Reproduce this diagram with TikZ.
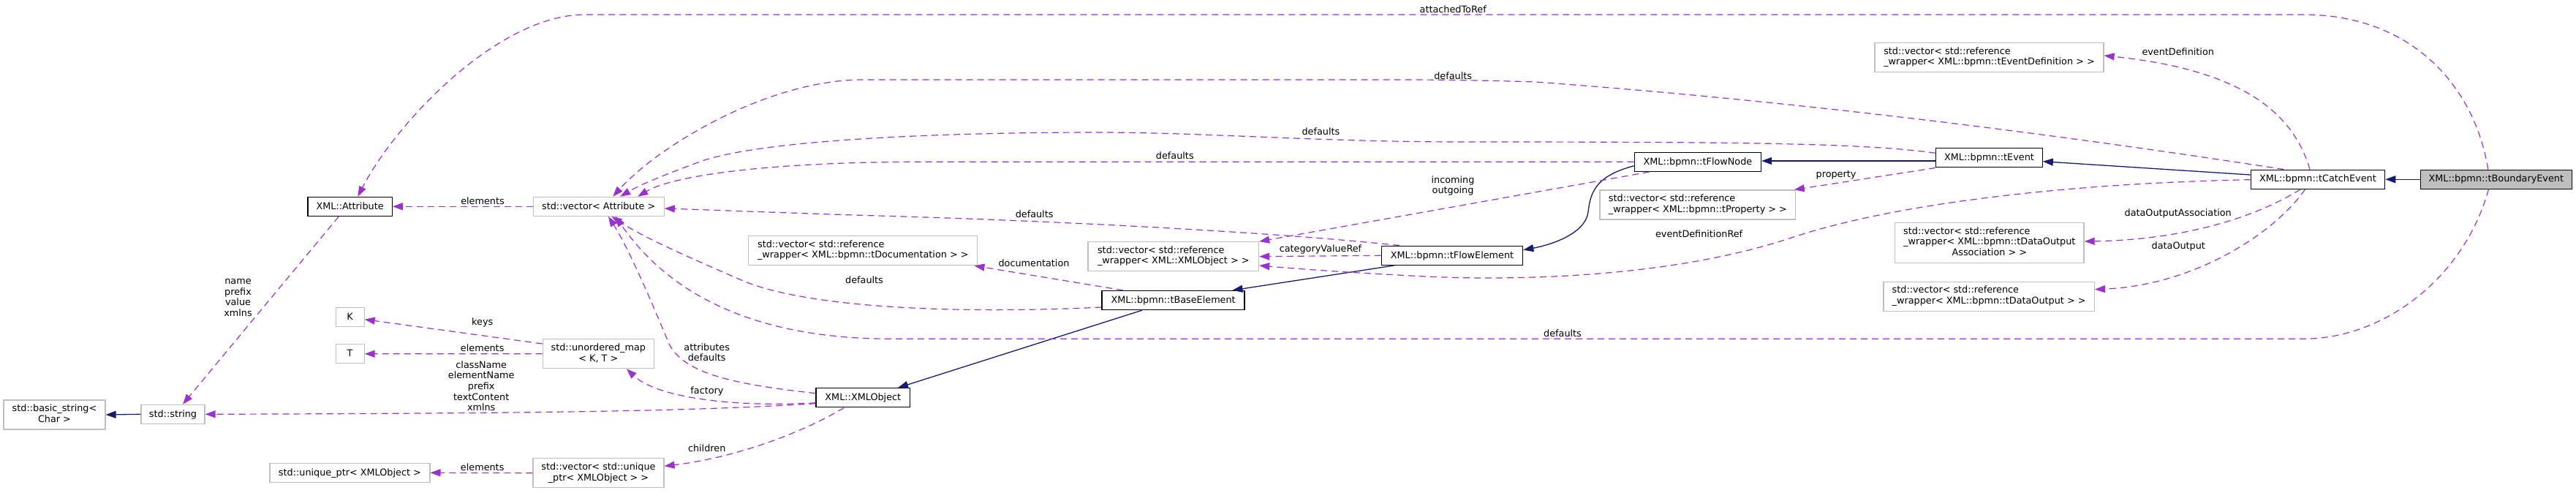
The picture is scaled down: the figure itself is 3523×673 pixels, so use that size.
\documentclass[tikz,border=0pt]{standalone}
\usepackage{fontspec}
\setmainfont{DejaVu Sans}
\usetikzlibrary{arrows.meta}
\definecolor{edgeP}{HTML}{9A32CD}
\definecolor{edgeN}{HTML}{191970}
\definecolor{greySF}{HTML}{BFBFBF}
\newcommand\dstrut{\rule[-3.6pt]{0pt}{14.6pt}}
\newcommand\twoL[2]{\begin{tabular}{@{}l@{}}#1\\#2\end{tabular}}
\newcommand\twoC[2]{\begin{tabular}{@{}c@{}}#1\\#2\end{tabular}}
\newcommand\threeL[3]{\begin{tabular}{@{}l@{}}#1\\#2\\\multicolumn{1}{@{}c@{}}{#3}\end{tabular}}
\begin{document}
\begin{tikzpicture}[x=1pt,y=-1pt,
  font=\fontsize{12.8pt}{14.7pt}\selectfont,
  box/.style={draw=black, line width=1.3pt, fill=white, inner sep=0pt, minimum height=26pt},
  ubox/.style={draw=greySF, line width=1.2pt, fill=white, inner sep=0pt, minimum height=26pt},
  htwo/.style={minimum height=40pt},
  hthree/.style={minimum height=55pt},
  uses/.style={draw=edgeP, line width=1.2pt, dash pattern=on 9pt off 6pt, -{Triangle[length=14pt,width=10pt]}},
  inh/.style={draw=edgeN, line width=1.3pt, -{Triangle[length=14pt,width=10pt]}},
  lbl/.style={inner sep=0pt, align=center},
]
\fill[white] (0,0) rectangle (3523,673);
\useasboundingbox (0,0) rectangle (3523,673);

% nodes
\node[ubox, htwo, minimum width=139pt] (bstr) at (74.5,567) {\twoC{std::basic\_string<}{Char >}};
\node[ubox, minimum width=87pt] (str) at (236.5,566.3) {\dstrut std::string};
\node[box, minimum width=115.3pt] (attr) at (478.6,282.3) {\dstrut XML::Attribute};
\node[ubox, minimum width=39pt] (K) at (478.6,433.3) {\dstrut K};
\node[ubox, minimum width=39pt] (T) at (478.6,483.8) {\dstrut T};
\node[ubox, minimum width=219pt] (uptr) at (478.4,646.3) {\dstrut std::unique\_ptr< XMLObject >};
\node[ubox, minimum width=179pt] (vattr) at (818.7,282.3) {\dstrut std::vector< Attribute >};
\node[ubox, htwo, minimum width=152pt] (umap) at (818.3,483.7) {\twoC{std::unordered\_map}{< K, T >}};
\node[ubox, htwo, minimum width=179pt] (vuptr) at (818.5,646.7) {\twoC{std::vector< std::unique}{\_ptr< XMLObject > >}};
\node[box, minimum width=128.6pt] (xmlobj) at (1180.3,543.8) {\dstrut XML::XMLObject};
\node[ubox, htwo, minimum width=313pt] (vdoc) at (1180.3,342.7) {\twoL{std::vector< std::reference}{\_wrapper< XML::bpmn::tDocumentation > >}};
\node[ubox, htwo, minimum width=233.6pt] (vxo) at (1604.8,350.7) {\twoL{std::vector< std::reference}{\_wrapper< XML::XMLObject > >}};
\node[box, minimum width=195pt] (base) at (1604.6,410.5) {\dstrut XML::bpmn::tBaseElement};
\node[box, minimum width=193.3pt] (flowel) at (1986,349.3) {\dstrut XML::bpmn::tFlowElement};
\node[box, minimum width=173.2pt] (flownode) at (2321.9,221.3) {\dstrut XML::bpmn::tFlowNode};
\node[ubox, htwo, minimum width=267.8pt] (vprop) at (2321.9,280) {\twoL{std::vector< std::reference}{\_wrapper< XML::bpmn::tProperty > >}};
\node[box, minimum width=145.4pt] (event) at (2720.5,215.8) {\dstrut XML::bpmn::tEvent};
\node[ubox, htwo, minimum width=313pt] (vevdef) at (2720.5,78.7) {\twoL{std::vector< std::reference}{\_wrapper< XML::bpmn::tEventDefinition > >}};
\node[ubox, hthree, minimum width=258.5pt] (vdoa) at (2720.8,331.8) {\threeL{std::vector< std::reference}{\_wrapper< XML::bpmn::tDataOutput}{Association > >}};
\node[ubox, htwo, minimum width=288.4pt] (vdo) at (2720.1,405.2) {\twoL{std::vector< std::reference}{\_wrapper< XML::bpmn::tDataOutput > >}};
\node[box, minimum width=183.4pt] (catch) at (3169.9,245.2) {\dstrut XML::bpmn::tCatchEvent};
\node[box, fill=greySF, minimum width=207pt] (bound) at (3413.8,245.2) {\dstrut XML::bpmn::tBoundaryEvent};

% inheritance edges
\draw[inh] (str.west) -- (bstr.east);
\draw[inh] ([xshift=-42.6pt]base.south) -- ([xshift=47.7pt]xmlobj.north);
\draw[inh] ([xshift=-79.4pt]flowel.south) -- ([xshift=80.9pt]base.north);
\draw[inh] ([yshift=-5.4pt]flownode.west) .. controls (2185,240) and (2175,260) .. (2172,290) .. controls (2168,320) and (2120,335) .. ([yshift=7.6pt]flowel.east);
\draw[inh] ([yshift=-4.2pt]event.west) -- ([yshift=1.3pt]flownode.east);
\draw[inh] ([yshift=6.2pt]catch.west) -- ([yshift=-4.9pt]event.east);
\draw[inh] (bound.west) -- (catch.east);

% usage edges
\draw[uses] ([xshift=-15.3pt]attr.south) -- ([xshift=13.5pt]str.north);
\node[lbl] (l2) at (325.5,407) {name\\prefix\\value\\xmlns};

\draw[uses] (vattr.west) -- (attr.east);
\node[lbl] (l3) at (660,274.3) {elements};

\draw[uses] ([yshift=13.7pt]umap.west) -- ([yshift=-3.4pt]K.east);
\node[lbl] (l4) at (659.7,440.7) {keys};

\draw[uses] (umap.west) -- (T.east);
\node[lbl] (l5) at (659.7,475.7) {elements};

\draw[uses] ([yshift=-7.9pt]xmlobj.west) .. controls (950,562) and (750,565) .. (str.east);
\node[lbl] (l6) at (658.2,527.7) {className\\elementName\\prefix\\textContent\\xmlns};

\draw[uses] ([yshift=-6.9pt]xmlobj.west) .. controls (1010,557) and (900,545) .. ([xshift=38.6pt]umap.south);
\node[lbl] (l7) at (967,535) {factory};

\draw[uses] ([yshift=6.1pt]xmlobj.west) .. controls (1000,525) and (935,510) .. (915,470) .. controls (890,410) and (860,340) .. ([xshift=13.3pt]vattr.south);
\node[lbl] (l8) at (966.7,481.7) {attributes\\defaults};

\draw[uses] ([xshift=-26pt]xmlobj.south) .. controls (1100,590) and (1010,625) .. ([yshift=9.4pt]vuptr.east);
\node[lbl] (l9) at (966.7,612.3) {children};

\draw[uses] (vuptr.west) -- (uptr.east);
\node[lbl] (l10) at (659.7,638.7) {elements};

\draw[uses] ([xshift=-68.6pt]base.north) -- ([xshift=152.2pt]vdoc.south);
\node[lbl] (l12) at (1414,359.7) {documentation};

\draw[uses] ([yshift=-9.5pt]base.west) .. controls (1300,430) and (1100,420) .. (1014,383) .. controls (950,355) and (880,325) .. ([xshift=18pt]vattr.south);
\node[lbl] (l13) at (1182,382.3) {defaults};

\draw[uses] (flowel.west) -- (vxo.east);
\node[lbl] (l15) at (1806,341) {categoryValueRef};

\draw[uses] ([xshift=-72pt]flowel.north) .. controls (1750,318) and (1450,302) .. (1200,295) .. controls (1100,292) and (1000,288) .. ([yshift=-2.7pt]vattr.east);
\node[lbl] (l16) at (1414.6,292.3) {defaults};

\draw[uses] ([xshift=-65.9pt]flownode.south) -- (vxo.north east);
\node[lbl] (l18) at (1987,254) {incoming\\outgoing};

\draw[uses] (flownode.west) -- (1250,221.3) .. controls (1050,222) and (920,240) .. ([xshift=53.5pt]vattr.north);
\node[lbl] (l19) at (1606.8,212.3) {defaults};

\draw[uses] (event.south west) -- ([xshift=131.8pt]vprop.north);
\node[lbl] (l21) at (2511,239.3) {property};

\draw[uses] ([yshift=6.5pt]event.west) .. controls (2550,196) and (2400,194) .. (2000,194) .. controls (1800,194) and (1650,181) .. (1500,181) .. controls (1300,181) and (1050,190) .. (960,220) .. controls (920,235) and (880,250) .. ([xshift=29.5pt]vattr.north);
\node[lbl] (l22) at (1806.4,180) {defaults};

\draw[uses] ([xshift=-10.9pt]catch.north) .. controls (3135,150) and (3060,95) .. ([yshift=2.7pt]vevdef.east);
\node[lbl] (l24) at (2978.7,70.7) {eventDefinition};

\draw[uses] ([xshift=-46.5pt]catch.north) .. controls (2950,205) and (2550,145) .. (2100,112) .. controls (2000,109) and (1950,109) .. (1900,109) -- (1180,109) .. controls (1050,109) and (900,200) .. ([xshift=19.5pt]vattr.north);
\node[lbl] (l25) at (1987.2,103.3) {defaults};

\draw[uses] ([yshift=-0.5pt]catch.west) .. controls (2850,250) and (2600,275) .. (2450,325) .. controls (2300,375) and (2100,385) .. (1950,378) .. controls (1850,373) and (1780,368) .. ([yshift=-12.3pt]vxo.east);
\node[lbl] (l26) at (2323.6,319.3) {eventDefinitionRef};

\draw[uses] ([xshift=-23.7pt]catch.south) .. controls (3080,300) and (2980,328) .. ([yshift=1.8pt]vdoa.east);
\node[lbl] (l27) at (2978.7,291.7) {dataOutputAssociation};

\draw[uses] ([xshift=-17.4pt]catch.south) .. controls (3110,320) and (3000,390) .. ([yshift=9.5pt]vdo.east);
\node[lbl] (l28) at (2979.3,336.7) {dataOutput};

\draw[uses] ([xshift=-11.1pt]bound.north) .. controls (3385,120) and (3300,20) .. (3150,20) -- (800,20) .. controls (680,20) and (540,170) .. ([xshift=10.8pt]attr.north);
\node[lbl] (l30) at (1987.2,12.3) {attachedToRef};

\draw[uses] ([xshift=-10.4pt]bound.south) .. controls (3370,380) and (3260,463.3) .. (3150,463.3) -- (1220,463.3) .. controls (1000,463.3) and (900,380) .. ([xshift=23pt]vattr.south);
\node[lbl] (l31) at (2137,455.7) {defaults};
\end{tikzpicture}
\end{document}
